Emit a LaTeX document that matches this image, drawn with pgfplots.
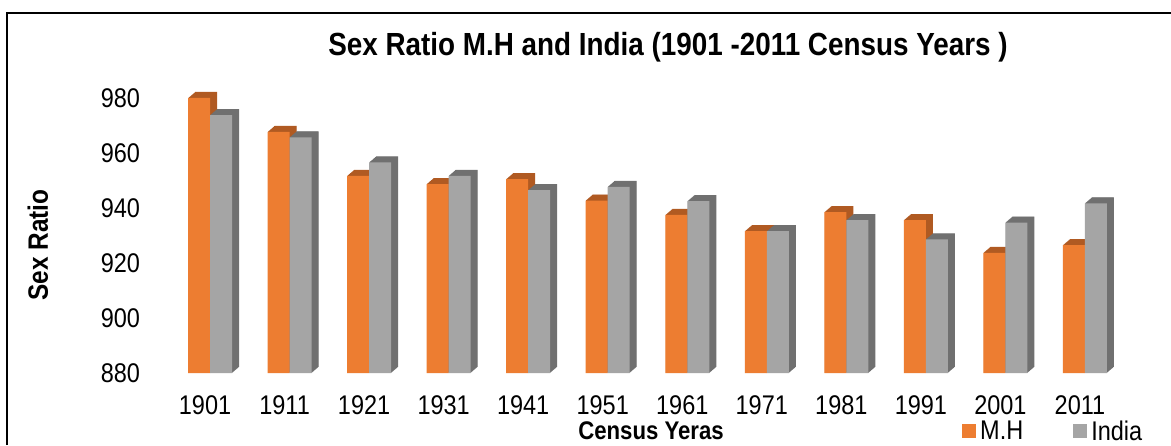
\documentclass[border=0pt]{standalone}
\usepackage{pgfplots}
\usepackage{pgfplotstable}
\pgfplotsset{compat=1.18}
\usepackage{fontspec}
\setmainfont{Liberation Sans}[FakeStretch=0.87]
\definecolor{mhc}{HTML}{ED7D31}
\definecolor{mhd}{HTML}{B05A22}
\definecolor{inc}{HTML}{A5A5A5}
\definecolor{ind}{HTML}{707070}
\pgfplotstableread{
x mh in
0 980 973.8
1 967.7 965.7
2 951.7 956.6
3 948.7 951.7
4 950.5 946.5
5 942.7 947.7
6 937.5 942.5
7 931.6 931.6
8 938.5 935.6
9 935.6 928.6
10 923.7 934.7
11 926.5 941.7
}\data
\begin{document}
\begin{tikzpicture}
\useasboundingbox (0,0) rectangle (1171pt,445pt);
\fill[white] (0,0) rectangle (1171pt,445pt);
\draw[line width=2pt] (7pt,0) -- (7pt,432pt) -- (1172pt,432pt);
\begin{axis}[
  at={(170.25pt,72pt)}, anchor=south west,
  scale only axis, width=954.5pt, height=283.25pt,
  xmin=-0.5, xmax=11.5, ymin=880, ymax=983,
  axis line style={draw=none}, tick style={draw=none},
  ytick={880,900,...,980},
  xtick={0,...,11},
  xticklabels={1901,1911,1921,1931,1941,1951,1961,1971,1981,1991,2001,2011},
  /pgf/number format/assume math mode=true,
  tick label style={font=\fontsize{27pt}{32pt}\selectfont},
  yticklabel style={anchor=east, inner sep=0pt, xshift=-30pt},
  xticklabel style={anchor=north, inner sep=0pt, yshift=-22pt, xshift=-5pt},
  title={\bfseries Sex Ratio M.H and India (1901 -2011 Census Years )},
  title style={at={(axis description cs:0.5215,1.13)}, anchor=center, font=\fontsize{32pt}{38pt}\selectfont},
  xlabel={\bfseries Census Yeras},
  x label style={at={(axis description cs:0.5037,-0.204)}, anchor=center, inner sep=0pt, font=\fontsize{25.5pt}{30pt}\selectfont},
  ylabel={\bfseries Sex Ratio},
  y label style={at={(axis description cs:-0.1386,0.452)}, anchor=center, rotate=0, font=\fontsize{28pt}{32pt}\selectfont},
  legend style={at={(axis description cs:0.8295,-0.205)}, anchor=west, draw=none, fill=none, inner sep=0pt,
    font=\fontsize{27pt}{32pt}\selectfont, legend columns=2,
    /tikz/every even column/.append style={column sep=46pt},
    nodes={inner xsep=4pt}},
]
\pgfplotsinvokeforeach{7,6.5,6,5.5,5,4.5,4,3.5,3,2.5,2,1.5,1,0.5}{
\addplot[ybar, bar width=22pt, bar shift=-11pt, fill=mhd, draw=none, forget plot, xshift=#1pt, yshift={#1*0.86pt}] table[x=x,y=mh]{\data};
}
\addplot[ybar, bar width=22pt, bar shift=-11pt, fill=mhc, draw=none,
  legend image code/.code={\fill[mhc] (0pt,-7pt) rectangle (14pt,7pt);}] table[x=x,y=mh]{\data};
\addlegendentry{M.H}
\pgfplotsinvokeforeach{7,6.5,6,5.5,5,4.5,4,3.5,3,2.5,2,1.5,1,0.5}{
\addplot[ybar, bar width=22pt, bar shift=11pt, fill=ind, draw=none, forget plot, xshift=#1pt, yshift={#1*0.86pt}] table[x=x,y=in]{\data};
}
\addplot[ybar, bar width=22pt, bar shift=11pt, fill=inc, draw=none,
  legend image code/.code={\fill[inc] (0pt,-7pt) rectangle (14pt,7pt);}] table[x=x,y=in]{\data};
\addlegendentry{India}
\end{axis}
\end{tikzpicture}
\end{document}
